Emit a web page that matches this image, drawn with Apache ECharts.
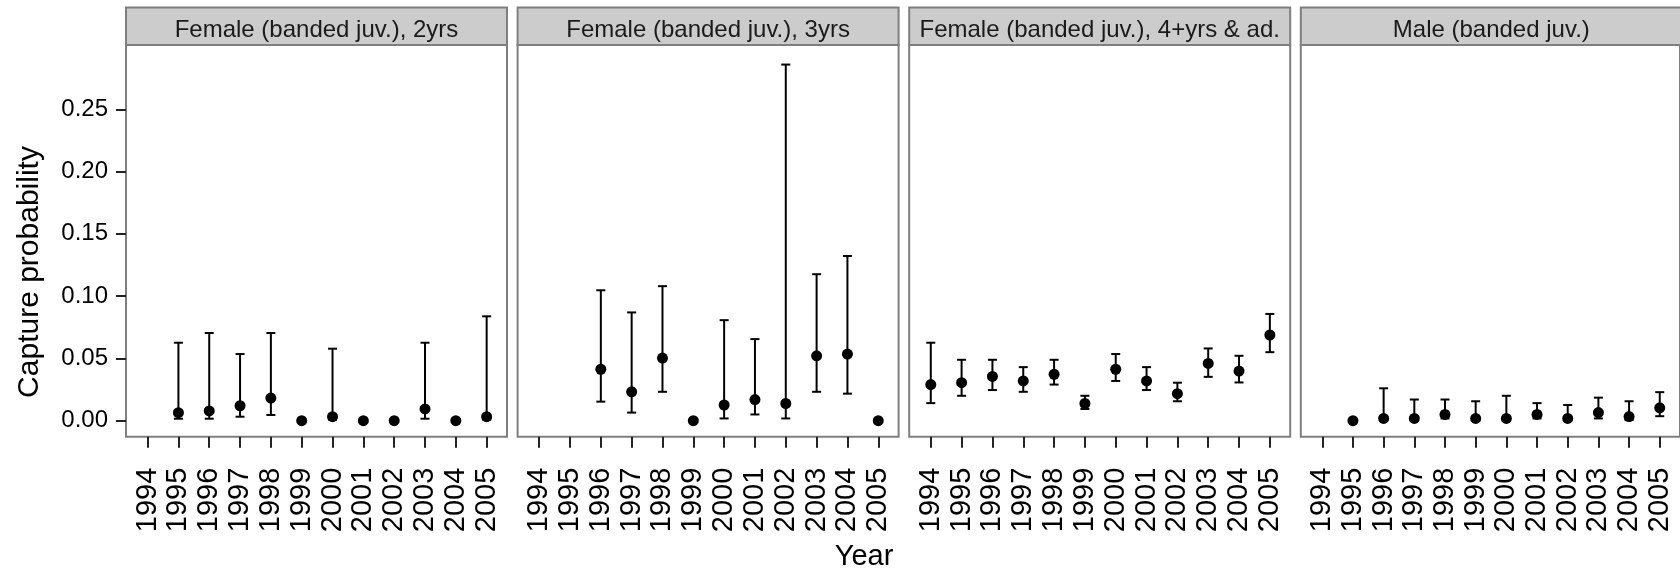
<!DOCTYPE html>
<html>
<head>
<meta charset="utf-8">
<title>Capture probability by year</title>
<script src="https://cdn.jsdelivr.net/npm/echarts@6/dist/echarts.min.js"></script>
<style>
  html, body { margin: 0; padding: 0; background: #ffffff; }
  #chart { width: 1680px; height: 571px; }
</style>
</head>
<body>
<div id="chart"></div>
<script>
// Years on the x axis of every facet
const years = [1994, 1995, 1996, 1997, 1998, 1999, 2000, 2001, 2002, 2003, 2004, 2005];
const yTicks = [0, 0.05, 0.10, 0.15, 0.20, 0.25];

const panelTitles = [
  'Female (banded juv.), 2yrs',
  'Female (banded juv.), 3yrs',
  'Female (banded juv.), 4+yrs & ad.',
  'Male (banded juv.)'
];

// Female, 2 yrs: estimate with lower / upper confidence limits (null = not estimated)
const f2Est = [null, 0.0064, 0.0078, 0.0120, 0.0182, 0.0000, 0.0032, 0.0000, 0.0000, 0.0094, 0.0000, 0.0032];
const f2Lo  = [null, 0.0016, 0.0016, 0.0032, 0.0046, 0.0000, 0.0008, 0.0000, 0.0000, 0.0016, 0.0000, 0.0008];
const f2Hi  = [null, 0.0626, 0.0704, 0.0535, 0.0704, 0.0000, 0.0578, 0.0000, 0.0000, 0.0626, 0.0000, 0.0838];

// Female, 3 yrs
const f3Est = [null, null, 0.0413, 0.0232, 0.0503, 0.0000, 0.0126, 0.0170, 0.0138, 0.0521, 0.0535, 0.0000];
const f3Lo  = [null, null, 0.0153, 0.0065, 0.0232, 0.0000, 0.0018, 0.0050, 0.0018, 0.0232, 0.0217, 0.0000];
const f3Hi  = [null, null, 0.1047, 0.0869, 0.1080, 0.0000, 0.0807, 0.0655, 0.2859, 0.1176, 0.1322, 0.0000];

// Female, 4+ yrs and adults
const f4Est = [0.0290, 0.0305, 0.0355, 0.0319, 0.0372, 0.0138, 0.0413, 0.0319, 0.0217, 0.0460, 0.0398, 0.0688];
const f4Lo  = [0.0141, 0.0200, 0.0246, 0.0232, 0.0290, 0.0094, 0.0319, 0.0246, 0.0156, 0.0352, 0.0307, 0.0550];
const f4Hi  = [0.0626, 0.0489, 0.0489, 0.0430, 0.0489, 0.0200, 0.0535, 0.0430, 0.0305, 0.0580, 0.0521, 0.0857];

// Males
const mEst = [null, 0.0000, 0.0018, 0.0018, 0.0050, 0.0018, 0.0018, 0.0050, 0.0018, 0.0065, 0.0033, 0.0103];
const mLo  = [null, 0.0000, 0.0003, 0.0003, 0.0018, 0.0003, 0.0003, 0.0018, 0.0003, 0.0018, 0.0005, 0.0036];
const mHi  = [null, 0.0000, 0.0260, 0.0170, 0.0170, 0.0156, 0.0200, 0.0141, 0.0126, 0.0185, 0.0156, 0.0229];

const panels = [
  { est: f2Est, lo: f2Lo, hi: f2Hi },
  { est: f3Est, lo: f3Lo, hi: f3Hi },
  { est: f4Est, lo: f4Lo, hi: f4Hi },
  { est: mEst,  lo: mLo,  hi: mHi  }
];

const FONT = '"Liberation Sans", Arial, Helvetica, sans-serif';

// facet geometry
const PANEL_LEFT0 = 126;
const PANEL_STEP = 391.6;
const PANEL_W = 381;
const PANEL_TOP = 45;
const PANEL_H = 391.7;
const STRIP_TOP = 7.5;

const grids = [], xAxes = [], yAxes = [], series = [], graphics = [];

panels.forEach((p, i) => {
  const left = PANEL_LEFT0 + i * PANEL_STEP;
  grids.push({
    left: left, top: PANEL_TOP, width: PANEL_W, height: PANEL_H,
    show: true, backgroundColor: '#ffffff',
    borderColor: '#7f7f7f', borderWidth: 2
  });
  xAxes.push({
    gridIndex: i, type: 'value', min: 1993.3, max: 2005.66,
    position: 'bottom',
    axisLine: { show: false, onZero: false },
    splitLine: { show: false },
    axisTick: {
      show: true, length: 11, customValues: years,
      lineStyle: { color: '#222', width: 2 }
    },
    axisLabel: {
      show: true, customValues: years, rotate: 90, margin: 31,
      fontSize: 29, fontFamily: FONT, color: '#000',
      padding: [5, 0, 0, 0],
      formatter: v => String(Math.round(v))
    }
  });
  yAxes.push({
    gridIndex: i, type: 'value', min: -0.01285, max: 0.3016,
    position: 'left',
    axisLine: { show: false, onZero: false },
    splitLine: { show: false },
    axisTick: {
      show: i === 0, length: 10, customValues: yTicks,
      lineStyle: { color: '#222', width: 2 }
    },
    axisLabel: {
      show: i === 0, customValues: yTicks, margin: 18,
      fontSize: 24, fontFamily: FONT, color: '#000',
      padding: [5, 0, 0, 0],
      formatter: v => v.toFixed(2)
    }
  });

  const bars = [], pts = [];
  years.forEach((yr, k) => {
    if (p.est[k] === null) return;
    bars.push([yr, p.lo[k], p.hi[k]]);
    pts.push([yr, p.est[k]]);
  });

  // error bars: vertical line with caps
  series.push({
    type: 'custom', xAxisIndex: i, yAxisIndex: i,
    data: bars, encode: { x: 0, y: [1, 2] }, z: 2,
    renderItem: (params, api) => {
      const x = api.value(0);
      const a = api.coord([x, api.value(1)]);
      const b = api.coord([x, api.value(2)]);
      const w = 4.5;
      const st = { stroke: '#000', lineWidth: 2 };
      return {
        type: 'group',
        children: [
          { type: 'line', shape: { x1: a[0], y1: a[1], x2: b[0], y2: b[1] }, style: st },
          { type: 'line', shape: { x1: b[0] - w, y1: b[1], x2: b[0] + w, y2: b[1] }, style: st },
          { type: 'line', shape: { x1: a[0] - w, y1: a[1], x2: a[0] + w, y2: a[1] }, style: st }
        ]
      };
    }
  });
  // point estimates
  series.push({
    type: 'scatter', xAxisIndex: i, yAxisIndex: i,
    data: pts, symbol: 'circle', symbolSize: 11, z: 3,
    itemStyle: { color: '#000', opacity: 1 }
  });

  // facet strip
  graphics.push({
    type: 'rect',
    shape: { x: left, y: STRIP_TOP, width: PANEL_W, height: PANEL_TOP - STRIP_TOP },
    style: { fill: '#cccccc', stroke: '#7f7f7f', lineWidth: 2 },
    z: 10
  });
  graphics.push({
    type: 'text', x: left + PANEL_W / 2, y: 30, z: 11,
    style: {
      text: panelTitles[i], fill: '#1a1a1a', font: '24px ' + FONT,
      textAlign: 'center', textVerticalAlign: 'middle'
    }
  });
});

// axis titles
graphics.push({
  type: 'text', x: 864, y: 556.5, z: 11,
  style: { text: 'Year', fill: '#000', font: '29px ' + FONT, textAlign: 'center', textVerticalAlign: 'middle' }
});
graphics.push({
  type: 'text', x: 30, y: 272, rotation: Math.PI / 2, z: 11,
  style: { text: 'Capture probability', fill: '#000', font: '30px ' + FONT, textAlign: 'center', textVerticalAlign: 'middle' }
});

const chart = echarts.init(document.getElementById('chart'), null, { renderer: 'canvas' });
chart.setOption({
  animation: false,
  backgroundColor: '#ffffff',
  grid: grids,
  xAxis: xAxes,
  yAxis: yAxes,
  series: series,
  graphic: graphics
});
</script>
</body>
</html>
